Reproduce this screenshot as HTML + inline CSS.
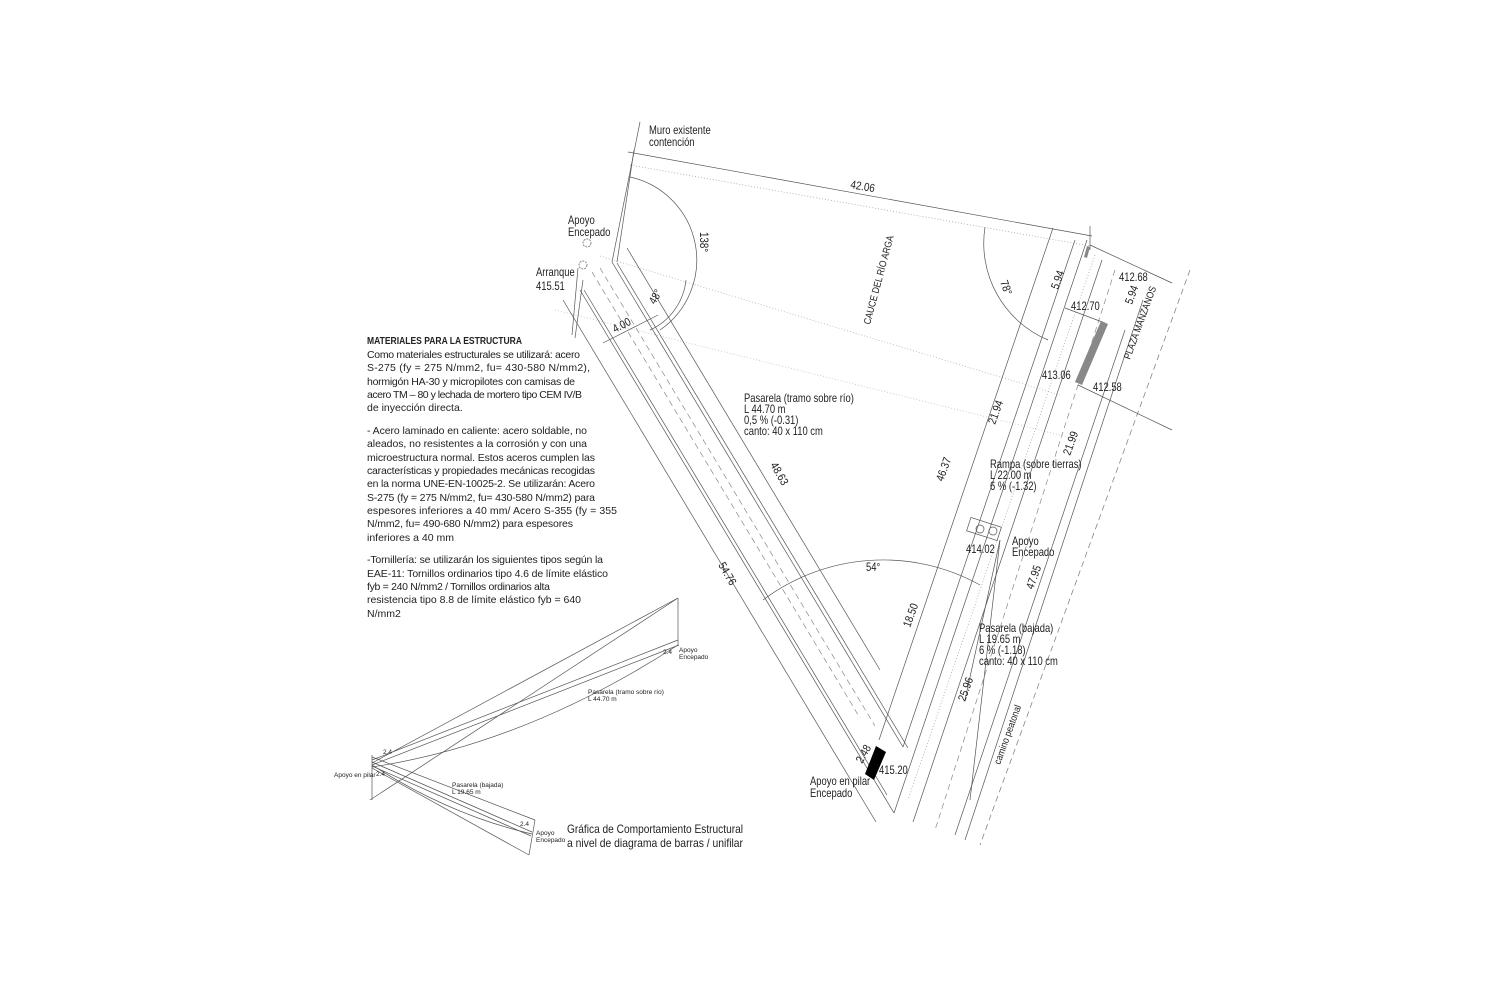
<!DOCTYPE html>
<html><head><meta charset="utf-8"><style>
html,body{margin:0;padding:0;background:#fff;}
svg{display:block;}
text{font-family:"Liberation Sans",sans-serif;fill:#222;}
.t{font-size:11.5px;}
.s{font-size:6.5px;}
.p{font-size:10.5px;}
</style></head><body>
<svg width="1500" height="1000" viewBox="0 0 1500 1000" xmlns="http://www.w3.org/2000/svg">
<g stroke="#555" stroke-width="0.7" fill="none">
<line x1="640" y1="122" x2="612" y2="262"/>
<line x1="634" y1="150" x2="617" y2="262"/>
<line x1="628" y1="152" x2="1092" y2="236"/>
<line x1="630" y1="165" x2="1090" y2="246" stroke-dasharray="1,2" stroke="#999"/>
<line x1="1090" y1="226" x2="1090" y2="250"/>
<path d="M630,177 A85,85 0 0 1 660,330"/>
<path d="M686,280 A62,62 0 0 1 650,330"/>
<path d="M985,227 A105,105 0 0 0 1048,340"/>
<path d="M763,600 A200,200 0 0 1 980,585"/>
<line x1="600" y1="256" x2="1060" y2="395" stroke-dasharray="1,2" stroke="#aaa"/>
<line x1="555" y1="310" x2="1080" y2="440" stroke-dasharray="1,2" stroke="#bbb"/>
<line x1="563" y1="300" x2="876" y2="822"/>
<line x1="580" y1="290" x2="894" y2="813"/>
<line x1="584" y1="290" x2="887" y2="795"/>
<line x1="592" y1="272" x2="860" y2="718" stroke-dasharray="6,4" stroke="#888"/>
<line x1="600" y1="268" x2="875" y2="726" stroke-dasharray="6,4" stroke="#888"/>
<line x1="612" y1="262" x2="903" y2="747"/>
<line x1="617" y1="263" x2="908" y2="748"/>
<line x1="627" y1="248" x2="880" y2="670"/>
<line x1="578" y1="268" x2="572" y2="335"/>
<line x1="583" y1="280" x2="575" y2="338"/>
<line x1="603" y1="343" x2="658" y2="315"/>
<line x1="1053" y1="228" x2="879" y2="740"/>
<line x1="1075" y1="240" x2="903" y2="747"/>
<line x1="1087" y1="240" x2="894" y2="813"/>
<line x1="1095" y1="255" x2="908" y2="800" stroke-dasharray="1,2" stroke="#999"/>
<line x1="1102" y1="260" x2="913" y2="822"/>
<line x1="1115" y1="270" x2="935" y2="830" stroke-dasharray="6,4" stroke="#888"/>
<line x1="1125" y1="330" x2="955" y2="835"/>
<line x1="1143" y1="300" x2="965" y2="840"/>
<line x1="1190" y1="270" x2="980" y2="845" stroke-dasharray="6,4" stroke="#777"/>
<line x1="1090" y1="245" x2="1172" y2="283"/>
<line x1="1078" y1="385" x2="1172" y2="430"/>
<line x1="1065" y1="308" x2="1105" y2="323"/>
<rect x="968" y="522" width="32" height="14" transform="rotate(18 984 529)"/>
<circle cx="980" cy="529" r="4"/><circle cx="993" cy="531" r="4"/>
<circle cx="587" cy="243" r="4" stroke-dasharray="2,1"/>
<circle cx="583" cy="265" r="4" stroke-dasharray="2,1"/>
<line x1="1000" y1="540" x2="965" y2="700"/>
<line x1="1000" y1="540" x2="970" y2="800"/>
<line x1="372" y1="763" x2="678" y2="598"/>
<line x1="678" y1="598" x2="370" y2="800"/>
<line x1="678" y1="598" x2="678" y2="645"/>
<line x1="372" y1="760" x2="678" y2="640"/>
<line x1="372" y1="765" x2="679" y2="645"/>
<path d="M372,767 Q525,744 678,645"/>
<line x1="372" y1="755" x2="372" y2="800"/>
<line x1="372" y1="762" x2="532" y2="832"/>
<line x1="372" y1="766" x2="531" y2="836"/>
<line x1="372" y1="757" x2="535" y2="820"/>
<line x1="535" y1="820" x2="529" y2="855"/>
<line x1="529" y1="855" x2="372" y2="768"/>
<path d="M372,765 Q450,815 532,834"/>
</g>
<g fill="#888"><polygon points="1101,321 1108,324 1082,385 1075,382"/><polygon points="1087,246 1090,247 1087,258 1084,257"/></g>
<polygon points="876,746 886,752 874,780 865,774" fill="#000"/>
<g class="t">
<g transform="translate(649,134) scale(.82,1)"><text>Muro existente</text><text y="12">contención</text></g>
<g transform="translate(568,224) scale(.82,1)"><text>Apoyo</text><text y="12">Encepado</text></g>
<g transform="translate(536,276) scale(.82,1)"><text>Arranque</text><text y="14">415.51</text></g>
<g transform="translate(744,402) scale(.82,1)"><text>Pasarela (tramo sobre río)</text><text y="11">L 44.70 m</text><text y="22">0,5 % (-0.31)</text><text y="33">canto: 40 x 110 cm</text></g>
<g transform="translate(990,468) scale(.82,1)"><text>Rampa (sobre tierras)</text><text y="11">L 22.00 m</text><text y="22">6 % (-1.32)</text></g>
<g transform="translate(1012,545) scale(.82,1)"><text>Apoyo</text><text y="11">Encepado</text></g>
<g transform="translate(966,553) scale(.82,1)"><text>414.02</text></g>
<g transform="translate(979,632) scale(.82,1)"><text>Pasarela (bajada)</text><text y="11">L 19.65 m</text><text y="22">6 % (-1.18)</text><text y="33">canto: 40 x 110 cm</text></g>
<g transform="translate(810,785) scale(.82,1)"><text>Apoyo en pilar</text><text y="12">Encepado</text></g>
<g transform="translate(879,774) scale(.82,1)"><text>415.20</text></g>
<g transform="translate(1119,281) scale(.82,1)"><text>412.68</text></g>
<g transform="translate(1071,310) scale(.82,1)"><text>412.70</text></g>
<g transform="translate(1042,379) scale(.82,1)"><text>413.06</text></g>
<g transform="translate(1093,391) scale(.82,1)"><text>412.58</text></g>
<g transform="translate(866,571) scale(.82,1)"><text>54°</text></g>
<text transform="translate(850,188) rotate(10) scale(.85,1)">42.06</text>
<text transform="translate(700,232) rotate(90) scale(.85,1)">138°</text>
<text transform="translate(655,305) rotate(-60) scale(.85,1)">48°</text>
<text transform="translate(615,333) rotate(-28) scale(.85,1)">4.00</text>
<text transform="translate(770,465) rotate(60) scale(.85,1)">48.63</text>
<text transform="translate(718,565) rotate(60) scale(.85,1)">54.76</text>
<text transform="translate(870,325) rotate(-75) scale(.85,1)" style="font-size:10px">CAUCE DEL RÍO ARGA</text>
<text transform="translate(1000,282) rotate(70) scale(.85,1)">78°</text>
<text transform="translate(1058,290) rotate(-70) scale(.85,1)">5.94</text>
<text transform="translate(1132,305) rotate(-70) scale(.85,1)">5.94</text>
<text transform="translate(1130,360) rotate(-70) scale(.85,1)" style="font-size:10px">PLAZA MANZANOS</text>
<text transform="translate(995,425) rotate(-70) scale(.85,1)">21.94</text>
<text transform="translate(943,482) rotate(-70) scale(.85,1)">46.37</text>
<text transform="translate(1070,456) rotate(-70) scale(.85,1)">21.99</text>
<text transform="translate(1033,590) rotate(-70) scale(.85,1)">47.95</text>
<text transform="translate(910,628) rotate(-70) scale(.85,1)">18.50</text>
<text transform="translate(965,702) rotate(-70) scale(.85,1)">25.96</text>
<text transform="translate(1000,765) rotate(-70) scale(.85,1)" style="font-size:10px">camino peatonal</text>
<text transform="translate(862,764) rotate(-60) scale(.85,1)">2.48</text>
</g>
<g class="p">
<text x="367" y="344" font-weight="bold" textLength="155" lengthAdjust="spacingAndGlyphs">MATERIALES PARA LA ESTRUCTURA</text>
<text x="367" y="358" textLength="213" lengthAdjust="spacing">Como materiales estructurales se utilizará: acero</text>
<text x="367" y="371" textLength="223" lengthAdjust="spacing">S-275 (fy = 275 N/mm2, fu= 430-580 N/mm2),</text>
<text x="367" y="385" textLength="208" lengthAdjust="spacing">hormigón HA-30 y micropilotes con camisas de</text>
<text x="367" y="398" textLength="215" lengthAdjust="spacing">acero TM – 80 y lechada de mortero tipo CEM IV/B</text>
<text x="367" y="411">de inyección directa.</text>
<text x="367" y="434" textLength="220" lengthAdjust="spacing">- Acero laminado en caliente: acero soldable, no</text>
<text x="367" y="447" textLength="220" lengthAdjust="spacing">aleados, no resistentes a la corrosión y con una</text>
<text x="367" y="461" textLength="228" lengthAdjust="spacing">microestructura normal. Estos aceros cumplen las</text>
<text x="367" y="474" textLength="228" lengthAdjust="spacing">características y propiedades mecánicas recogidas</text>
<text x="367" y="487" textLength="228" lengthAdjust="spacing">en la norma UNE-EN-10025-2. Se utilizarán: Acero</text>
<text x="367" y="501" textLength="228" lengthAdjust="spacing">S-275 (fy = 275 N/mm2, fu= 430-580 N/mm2) para</text>
<text x="367" y="514" textLength="250" lengthAdjust="spacing">espesores inferiores a 40 mm/ Acero S-355 (fy = 355</text>
<text x="367" y="527" textLength="206" lengthAdjust="spacing">N/mm2, fu= 490-680 N/mm2) para espesores</text>
<text x="367" y="541">inferiores a 40 mm</text>
<text x="367" y="563" textLength="236" lengthAdjust="spacing">-Tornillería: se utilizarán los siguientes tipos según la</text>
<text x="367" y="577" textLength="241" lengthAdjust="spacing">EAE-11: Tornillos ordinarios tipo 4.6 de límite elástico</text>
<text x="367" y="590" textLength="183" lengthAdjust="spacing">fyb = 240 N/mm2 / Tornillos ordinarios alta</text>
<text x="367" y="603" textLength="214" lengthAdjust="spacing">resistencia tipo 8.8 de límite elástico fyb = 640</text>
<text x="367" y="617">N/mm2</text>
</g>
<g class="s">
<text x="679" y="652">Apoyo</text><text x="679" y="659">Encepado</text>
<text x="663" y="654">2.4</text>
<text x="588" y="694">Pasarela (tramo sobre río)</text><text x="588" y="701">L 44.70 m</text>
<text x="383" y="754">2.4</text><text x="376" y="776">2.4</text>
<text x="334" y="777">Apoyo en pilar</text>
<text x="452" y="787">Pasarela (bajada)</text><text x="452" y="794">L 19.65 m</text>
<text x="520" y="826">2.4</text>
<text x="536" y="835">Apoyo</text><text x="536" y="842">Encepado</text>
</g>
<text x="567" y="833" style="font-size:12px" textLength="176" lengthAdjust="spacingAndGlyphs">Gráfica de Comportamiento Estructural</text>
<text x="567" y="847" style="font-size:12px" textLength="176" lengthAdjust="spacingAndGlyphs">a nivel de diagrama de barras / unifilar</text>
</svg>
</body></html>
